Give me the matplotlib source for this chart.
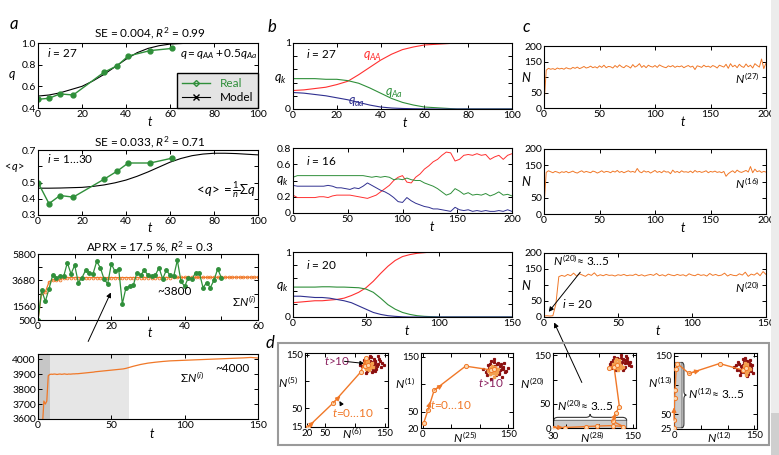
import matplotlib.pyplot as plt
from matplotlib.lines import Line2D
from matplotlib.patches import FancyArrowPatch, FancyBboxPatch, PathPatch, Rectangle
from matplotlib.path import Path

W, H = 779, 455
plt.rcParams['font.family'] = ['Lato', 'DejaVu Sans']
plt.rcParams['mathtext.fontset'] = 'custom'
plt.rcParams['mathtext.rm'] = 'Lato'
plt.rcParams['mathtext.it'] = 'Lato:italic'
plt.rcParams['mathtext.bf'] = 'Lato:bold'
plt.rcParams['font.size'] = 7.5

GREEN = '#2f8f3a'
ORANGE = '#f07828'
RED = '#ff3030'
BLUE = '#303090'
DARKRED = '#8b1010'

# ---- panel a: real vs model ----
real_t = [0, 5, 10, 16, 30, 36, 41, 51, 61]
q27_real = [0.48, 0.49, 0.53, 0.52, 0.73, 0.79, 0.88, 0.93, 0.95]
qmean_real = [0.50, 0.37, 0.42, 0.41, 0.52, 0.57, 0.62, 0.62, 0.65]
model_t = [0, 5, 10, 15, 20, 25, 30, 35, 40, 45, 50, 55, 60, 65, 70, 75, 80, 85, 90, 95, 100]
q27_model = [0.51, 0.52, 0.54, 0.57, 0.60, 0.65, 0.71, 0.78, 0.85, 0.91, 0.95, 0.975, 0.99, 0.995,
             1.0, 1.0, 1.0, 1.0, 1.0, 1.0, 1.0]
qmean_model = [0.465, 0.465, 0.466, 0.468, 0.470, 0.476, 0.485, 0.498, 0.515, 0.538, 0.565, 0.595,
               0.625, 0.648, 0.665, 0.675, 0.680, 0.680, 0.678, 0.674, 0.670]

sum_real_t = list(range(0, 51))
sum_real = [500, 2900, 2000, 3000, 4100, 3900, 4000, 4000, 5100, 4200, 4900, 3500, 3900, 4500, 4300,
            4200, 5200, 4700, 3800, 3400, 5000, 4400, 4600, 1800, 3100, 3200, 3300, 4300, 4100, 4500,
            4100, 4000, 4100, 4700, 3800, 4500, 4100, 4000, 5300, 3600, 3200, 3900, 3800, 4300, 4300,
            3100, 3500, 3100, 3700, 4600, 3900]
sum_model_t = list(range(0, 61)) + list(range(65, 151, 5))
sum_model = [500, 2700, 2750, 3550, 3720, 3700, 3720, 3890, 3898, 3900, 3899, 3901, 3900, 3898, 3900,
             3901, 3899, 3900, 3902, 3900, 3899, 3901, 3900, 3901, 3902, 3902, 3903, 3903, 3904, 3905,
             3906, 3907, 3908, 3909, 3910, 3911, 3912, 3913, 3914, 3916, 3917, 3918, 3919, 3920, 3921,
             3922, 3923, 3924, 3925, 3926, 3927, 3928, 3929, 3930, 3931, 3932, 3933, 3934, 3935, 3937,
             3939, 3953, 3965, 3974, 3980, 3985, 3989, 3991, 3993, 3995, 3997, 3999, 4001, 4003, 4005,
             4007, 4009, 4012, 4008]

# ---- panel b: genotype frequencies ----
b1_t = [0, 5, 10, 15, 20, 25, 30, 35, 40, 45, 50, 55, 60, 65, 70, 75, 80, 85, 90, 95, 100]
b1_AA = [0.28, 0.29, 0.31, 0.33, 0.37, 0.42, 0.52, 0.63, 0.74, 0.83, 0.90, 0.94, 0.97, 0.98, 0.99,
         1.0, 1.0, 1.0, 1.0, 1.0, 1.0]
b1_Aa = [0.46, 0.46, 0.46, 0.45, 0.45, 0.43, 0.39, 0.32, 0.24, 0.16, 0.10, 0.06, 0.03, 0.02, 0.01,
         0.0, 0.0, 0.0, 0.0, 0.0, 0.0]
b1_aa = [0.25, 0.24, 0.22, 0.20, 0.17, 0.14, 0.10, 0.06, 0.03, 0.015, 0.008, 0.004, 0.002, 0.0, 0.0,
         0.0, 0.0, 0.0, 0.0, 0.0, 0.0]

b2_t = list(range(0, 201, 4))
b2_AA = [0.22, 0.19, 0.19, 0.19, 0.19, 0.19, 0.20, 0.20, 0.19, 0.21, 0.22, 0.22, 0.22, 0.22, 0.21,
         0.20, 0.19, 0.18, 0.20, 0.22, 0.26, 0.30, 0.34, 0.40, 0.44, 0.46, 0.38, 0.37, 0.44, 0.48,
         0.54, 0.58, 0.63, 0.66, 0.71, 0.75, 0.74, 0.64, 0.66, 0.71, 0.72, 0.71, 0.73, 0.71, 0.72,
         0.66, 0.69, 0.71, 0.66, 0.71, 0.73]
b2_Aa = [0.44, 0.46, 0.46, 0.46, 0.46, 0.46, 0.46, 0.46, 0.46, 0.46, 0.46, 0.46, 0.46, 0.46, 0.46,
         0.46, 0.46, 0.45, 0.44, 0.45, 0.44, 0.45, 0.44, 0.41, 0.42, 0.41, 0.43, 0.41, 0.40, 0.40,
         0.37, 0.35, 0.33, 0.30, 0.26, 0.22, 0.24, 0.30, 0.27, 0.23, 0.25, 0.22, 0.23, 0.22, 0.24,
         0.21, 0.23, 0.26, 0.22, 0.23, 0.21]
b2_aa = [0.34, 0.33, 0.33, 0.33, 0.33, 0.33, 0.33, 0.33, 0.34, 0.33, 0.31, 0.31, 0.30, 0.29, 0.31,
         0.30, 0.33, 0.37, 0.34, 0.31, 0.28, 0.26, 0.23, 0.19, 0.14, 0.13, 0.19, 0.15, 0.12, 0.10,
         0.08, 0.07, 0.05, 0.05, 0.04, 0.03, 0.02, 0.07, 0.04, 0.03, 0.04, 0.02, 0.03, 0.02, 0.03,
         0.02, 0.02, 0.03, 0.02, 0.04, 0.02]

b3_t = list(range(0, 151, 5))
b3_AA = [0.22, 0.23, 0.24, 0.25, 0.25, 0.26, 0.27, 0.29, 0.33, 0.38, 0.45, 0.55, 0.67, 0.78, 0.87,
         0.93, 0.96, 0.98, 0.99, 1.0, 1.0, 1.0, 1.0, 1.0, 1.0, 1.0, 1.0, 1.0, 1.0, 1.0, 1.0]
b3_Aa = [0.46, 0.46, 0.46, 0.46, 0.465, 0.465, 0.46, 0.46, 0.455, 0.45, 0.43, 0.38, 0.29, 0.19, 0.12,
         0.07, 0.04, 0.02, 0.01, 0.005, 0.0, 0.0, 0.0, 0.0, 0.0, 0.0, 0.0, 0.0, 0.0, 0.0, 0.0]
b3_aa = [0.32, 0.32, 0.31, 0.30, 0.30, 0.29, 0.27, 0.25, 0.22, 0.17, 0.12, 0.07, 0.04, 0.02, 0.01,
         0.003, 0.0, 0.0, 0.0, 0.0, 0.0, 0.0, 0.0, 0.0, 0.0, 0.0, 0.0, 0.0, 0.0, 0.0, 0.0]

# ---- panel c: population sizes ----
c12_t = list(range(0, 201, 2))
c1_N = [10, 122, 128, 125, 127, 124, 129, 126, 128, 125,
        130, 127, 126, 131, 128, 132, 127, 130, 134, 129,
        131, 135, 130, 133, 129, 136, 131, 138, 130, 134,
        133, 129, 137, 131, 139, 133, 130, 137, 134, 129,
        140, 132, 136, 143, 131, 137, 130, 138, 134, 132,
        137, 131, 139, 135, 132, 130, 136, 133, 137, 131,
        135, 133, 136, 130, 134, 137, 132, 135, 124, 136,
        134, 131, 138, 133, 135, 131, 137, 134, 129, 138,
        135, 132, 141, 128, 143, 133, 138, 130, 141, 134,
        131, 142, 133, 138, 129, 143, 137, 132, 158, 127, 145]
c2_N = [25, 128, 133, 130, 127, 131, 129, 126, 130, 128,
        131, 127, 129, 132, 128, 126, 130, 133, 128, 131,
        129, 127, 132, 130, 126, 129, 133, 128, 131, 130,
        127, 132, 129, 134, 128, 131, 127, 130, 133, 129,
        131, 128, 140, 130, 127, 133, 129, 131, 126, 130,
        134, 128, 131, 127, 133, 129, 130, 124, 135, 128,
        131, 127, 133, 129, 130, 128, 132, 127, 134, 129,
        131, 128, 130, 133, 127, 131, 129, 132, 128, 130,
        127, 131, 116, 124, 129, 133, 127, 135, 130, 128,
        131, 134, 129, 146, 127, 138, 130, 133, 128, 131, 129]
c3_t = list(range(0, 151, 2))
c3_N = [3, 4, 3, 4, 40, 126, 130, 127, 133, 129,
        137, 128, 135, 131, 127, 134, 130, 138, 128, 132,
        129, 133, 130, 131, 128, 132, 130, 133, 129, 131,
        130, 134, 129, 132, 128, 131, 133, 130, 136, 129,
        132, 128, 134, 131, 129, 133, 130, 132, 128, 135,
        131, 129, 134, 130, 132, 128, 136, 130, 133, 129,
        131, 137, 128, 133, 130, 129, 135, 131, 140, 127,
        134, 131, 138, 129, 142, 133]

# ---- panel d: phase portraits ----
d1_traj_x = [22, 64, 110, 118, 116, 121]
d1_traj_y = [15, 60, 118, 144, 128, 130]
d1_real_x = [112, 118, 121, 125, 128, 131, 134, 137, 140, 143, 115, 120, 124, 127, 130, 133, 136, 139,
             145, 109, 117, 122, 126, 129, 132, 135, 138, 148, 119, 123, 127, 131, 134, 125, 129, 141]
d1_real_y = [128, 133, 124, 139, 131, 127, 136, 130, 142, 126, 140, 119, 134, 145, 122, 138, 128, 133,
             135, 131, 126, 143, 129, 136, 141, 124, 147, 131, 115, 137, 125, 133, 120, 148, 118, 138]
d1_model_x = [115, 118, 121, 124, 127, 119, 123, 126, 116, 122, 125, 128, 120, 117, 130]
d1_model_y = [130, 124, 133, 127, 129, 136, 121, 132, 126, 139, 125, 134, 128, 132, 127]

d2_traj_x = [2, 9, 20, 75, 120, 124]
d2_traj_y = [30, 52, 89, 133, 126, 128]
d2_real_x = [105, 110, 114, 118, 121, 124, 127, 130, 133, 136, 139, 142, 146, 150, 112, 116, 120, 123,
             126, 129, 132, 135, 138, 141, 144, 119, 125, 131, 137, 128, 122, 134, 117, 140, 127, 113]
d2_real_y = [128, 122, 135, 118, 131, 140, 125, 136, 121, 133, 127, 138, 124, 130, 116, 129, 143, 120,
             134, 117, 139, 126, 113, 132, 122, 110, 146, 128, 137, 121, 125, 119, 137, 127, 131, 124]
d2_model_x = [114, 118, 121, 124, 127, 130, 117, 122, 126, 129, 120, 124, 132, 119, 125]
d2_model_y = [124, 129, 121, 127, 132, 123, 118, 134, 126, 119, 130, 114, 127, 122, 120]

d3_traj_x = [31, 48, 80, 96, 120, 136, 120, 125, 130, 122, 114, 126]
d3_traj_y = [1, 1, 3, 4, 5, 3, 14, 32, 44, 126, 124, 130]
d3_real_x = [116, 120, 124, 127, 130, 133, 136, 139, 142, 145, 148, 118, 122, 126, 129, 132, 135, 138,
             141, 144, 121, 125, 128, 131, 134, 137, 140, 143, 127, 133, 123, 136, 130, 139, 117, 146]
d3_real_y = [133, 140, 128, 145, 136, 131, 142, 127, 138, 133, 129, 124, 147, 121, 139, 150, 125, 135,
             144, 131, 136, 119, 142, 128, 137, 123, 148, 134, 131, 145, 131, 120, 126, 140, 137, 136]
d3_model_x = [122, 125, 128, 131, 124, 127, 130, 133, 126, 129, 121, 135, 128, 132, 125]
d3_model_y = [128, 134, 126, 131, 138, 123, 136, 129, 131, 140, 132, 127, 120, 125, 142]

d4_traj_x = [0, 0, 1, 2, 4, 6, 28, 85, 128, 134]
d4_traj_y = [26, 40, 78, 92, 128, 137, 120, 137, 126, 130]
d4_real_x = [112, 118, 122, 126, 129, 132, 135, 138, 141, 144, 147, 120, 124, 128, 131, 134, 137, 140,
             143, 127, 133, 139, 125, 136, 130, 145, 116, 142, 123, 138, 131, 134, 129, 141, 137, 126]
d4_real_y = [131, 126, 137, 122, 134, 128, 141, 125, 133, 129, 121, 140, 118, 145, 127, 136, 131, 138,
             124, 130, 147, 119, 132, 115, 139, 134, 135, 143, 126, 128, 122, 133, 130, 137, 141, 125]
d4_model_x = [130, 133, 136, 139, 132, 135, 138, 131, 134, 137, 129, 140, 133, 136, 142]
d4_model_y = [128, 124, 131, 126, 135, 120, 129, 132, 117, 136, 124, 130, 138, 122, 127]

fig = plt.figure(figsize=(W / 100, H / 100), dpi=100)


def px_axes(x0, y0, x1, y1, size=7.5):
    ax = fig.add_axes([x0 / W, 1 - y1 / H, (x1 - x0) / W, (y1 - y0) / H])
    ax.tick_params(direction='in', top=True, right=True, length=3, width=0.7, pad=1.5, labelsize=size)
    for sp in ax.spines.values():
        sp.set_linewidth(0.8)
    return ax


def ftext(x, y, s, **kw):
    kw.setdefault('ha', 'center')
    kw.setdefault('va', 'center')
    fig.text(x / W, 1 - y / H, s, **kw)


def farrow(x0, y0, x1, y1):
    fig.add_artist(FancyArrowPatch((x0 / W, 1 - y0 / H), (x1 / W, 1 - y1 / H), transform=fig.transFigure,
                                   arrowstyle='-|>', mutation_scale=7, lw=0.7, color='k'))


def brace(ax, a0, a1, c, h, vertical=False):
    m = (a0 + a1) / 2
    q = (a1 - a0) * 0.06
    pts = [(a0, c), (a0, c + h / 2), (a0 + q, c + h / 2), (m - q, c + h / 2), (m, c + h / 2), (m, c + h),
           (m, c + h / 2), (m + q, c + h / 2), (a1 - q, c + h / 2), (a1, c + h / 2), (a1, c)]
    if vertical:
        pts = [(y, x) for x, y in pts]
    codes = [Path.MOVETO, Path.CURVE3, Path.CURVE3, Path.LINETO, Path.CURVE3, Path.CURVE3,
             Path.CURVE3, Path.CURVE3, Path.LINETO, Path.CURVE3, Path.CURVE3]
    ax.add_patch(PathPatch(Path(pts, codes), fc='none', ec='#333333', lw=0.8, zorder=1))


# right edge strip of the page
fig.add_artist(Rectangle((771 / W, 0), 8 / W, 1, transform=fig.transFigure, color='#ececec', lw=0))
fig.add_artist(Rectangle((771 / W, 0), 8 / W, 42 / H, transform=fig.transFigure, color='#cfcfcf', lw=0))

# ---------------- a1 ----------------
ax = px_axes(38, 43, 258, 108)
ax.plot(model_t, q27_model, color='k', lw=0.8)
ax.plot(real_t, q27_real, color=GREEN, lw=1, marker='o', ms=3.5)
ax.set_xlim(0, 100)
ax.set_ylim(0.4, 1.0)
ax.set_xticks(range(0, 101, 20))
ax.set_yticks([0.4, 0.6, 0.8, 1.0], ['0.4', '0.6', '0.8', '1.0'])
ax.text(0.04, 0.78, r'$i$ = 27', transform=ax.transAxes, fontsize=8.5)
ax.text(0.995, 0.78, r'$q = q_{AA} + 0.5q_{Aa}$', transform=ax.transAxes, fontsize=8.5, ha='right')
handles = [Line2D([], [], color=GREEN, lw=1, marker='D', mfc='none', ms=3),
           Line2D([], [], color='k', lw=0.8, marker='x', ms=4)]
leg = ax.legend(handles, ['Real', 'Model'], loc='lower right', borderaxespad=0, fancybox=False,
                facecolor='#e4e4e4', edgecolor='k', framealpha=1, fontsize=8.5, handlelength=2.4,
                labelspacing=0.3, borderpad=0.4)
leg.get_texts()[0].set_color(GREEN)
ftext(150, 33, r'SE = 0.004, $R^2$ = 0.99', fontsize=8.5)
ftext(12, 76, r'$q$', fontsize=9)
ftext(150, 121, r'$t$', fontsize=9)
ftext(14, 24, r'$a$', fontsize=12)

# ---------------- a2 ----------------
ax = px_axes(38, 150, 258, 215)
ax.plot(model_t, qmean_model, color='k', lw=0.8)
ax.plot(real_t, qmean_real, color=GREEN, lw=1, marker='o', ms=3.5)
ax.set_xlim(0, 100)
ax.set_ylim(0.3, 0.7)
ax.set_xticks(range(0, 101, 20))
ax.set_yticks([0.3, 0.4, 0.5, 0.6, 0.7], ['0.3', '0.4', '0.5', '', '0.7'])
ax.text(0.04, 0.8, r'$i$ = 1…30', transform=ax.transAxes, fontsize=8.5)
ax.text(0.99, 0.3, r'$<\!q\!> = \frac{1}{n}\Sigma q$', transform=ax.transAxes, fontsize=9.5, ha='right')
ftext(150, 142, r'SE = 0.033, $R^2$ = 0.71', fontsize=8.5)
ftext(14, 167, r'$<\!q\!>$', fontsize=8)
ftext(150, 227, r'$t$', fontsize=9)

# ---------------- a3 ----------------
ax = px_axes(38, 254, 258, 320)
ax.plot(sum_model_t[:61], sum_model[:61], color=ORANGE, lw=0.9, marker='o', ms=2, mfc='none', mew=0.6)
ax.plot(sum_real_t, sum_real, color=GREEN, lw=0.9, marker='o', ms=2.5)
ax.set_xlim(0, 60)
ax.set_ylim(500, 5800)
ax.set_xticks(range(0, 61, 10), ['0', '', '20', '', '40', '', '60'])
ax.set_yticks([500, 1560, 2620, 3680, 4740, 5800], ['500', '1560', '', '3680', '', '5800'])
ax.text(0.62, 0.38, '~3800', transform=ax.transAxes, fontsize=8.5, ha='center')
ax.text(0.99, 0.2, r'Σ$N^{(i)}$', transform=ax.transAxes, fontsize=8.5, ha='right')
ftext(150, 247, r'APRX = 17.5 %, $R^2$ = 0.3', fontsize=8.5)
ftext(150, 332, r'$t$', fontsize=9)
farrow(87, 344, 112, 290)

# ---------------- a4 ----------------
ax = px_axes(38, 354, 258, 419)
ax.axvspan(0, 8, color='#c6c6c6', lw=0)
ax.axvspan(8, 62, color='#e6e6e6', lw=0)
ax.plot(sum_model_t, sum_model, color=ORANGE, lw=0.9)
ax.set_xlim(0, 150)
ax.set_ylim(3600, 4035)
ax.set_xticks([0, 50, 100, 150])
ax.set_yticks(range(3600, 4001, 100))
ax.text(0.7, 0.55, r'Σ$N^{(i)}$', transform=ax.transAxes, fontsize=8.5, ha='center')
ax.text(0.96, 0.72, '~4000', transform=ax.transAxes, fontsize=8.5, ha='right')
ftext(152, 433, r'$t$', fontsize=9)

# ---------------- b ----------------
ax = px_axes(293, 43, 512, 109)
ax.plot(b1_t, b1_AA, color=RED, lw=0.8)
ax.plot(b1_t, b1_Aa, color=GREEN, lw=0.8)
ax.plot(b1_t, b1_aa, color=BLUE, lw=0.8)
ax.set_xlim(0, 100)
ax.set_ylim(0, 1)
ax.set_xticks(range(0, 101, 20))
ax.set_yticks([0, 0.2, 0.4, 0.6, 0.8, 1], ['0', '', '', '', '', '1'])
ax.text(0.06, 0.78, r'$i$ = 27', transform=ax.transAxes, fontsize=8.5)
ax.text(0.32, 0.76, r'$q_{AA}$', transform=ax.transAxes, fontsize=9, color=RED)
ax.text(0.42, 0.2, r'$q_{Aa}$', transform=ax.transAxes, fontsize=9, color=GREEN)
ax.text(0.25, 0.06, r'$q_{aa}$', transform=ax.transAxes, fontsize=9, color=BLUE)
ftext(280, 79, r'$q_k$', fontsize=9)
ftext(405, 122, r'$t$', fontsize=9)
ftext(272, 27, r'$b$', fontsize=12)

ax = px_axes(293, 148, 512, 213)
ax.plot(b2_t, b2_AA, color=RED, lw=0.7)
ax.plot(b2_t, b2_Aa, color=GREEN, lw=0.7)
ax.plot(b2_t, b2_aa, color=BLUE, lw=0.7)
ax.set_xlim(0, 200)
ax.set_ylim(0, 0.8)
ax.set_xticks(range(0, 201, 50))
ax.set_yticks([0, 0.2, 0.4, 0.6, 0.8], ['0', '0.2', '', '0.6', '0.8'])
ax.text(0.06, 0.74, r'$i$ = 16', transform=ax.transAxes, fontsize=8.5)
ftext(282, 181, r'$q_k$', fontsize=9)
ftext(432, 226, r'$t$', fontsize=9)

ax = px_axes(293, 252, 512, 317)
ax.plot(b3_t, b3_AA, color=RED, lw=0.8)
ax.plot(b3_t, b3_Aa, color=GREEN, lw=0.8)
ax.plot(b3_t, b3_aa, color=BLUE, lw=0.8)
ax.set_xlim(0, 150)
ax.set_ylim(0, 1)
ax.set_xticks(range(0, 151, 50))
ax.set_yticks([0, 0.2, 0.4, 0.6, 0.8, 1], ['0', '', '', '', '', '1'])
ax.text(0.06, 0.74, r'$i$ = 20', transform=ax.transAxes, fontsize=8.5)
ftext(282, 287, r'$q_k$', fontsize=9)
ftext(407, 330, r'$t$', fontsize=9)

# ---------------- c ----------------
for (y0, y1, tt, nn, lab, tx) in [(46, 108, c12_t, c1_N, '27', 683), (149, 214, c12_t, c2_N, '16', 683),
                                  (253, 317, c3_t, c3_N, '20', 658)]:
    ax = px_axes(544, y0, 766, y1)
    ax.plot(tt, nn, color=ORANGE, lw=0.7)
    ax.set_xlim(0, tt[-1])
    ax.set_ylim(0, 200)
    ax.set_xticks(range(0, tt[-1] + 1, 50))
    ax.set_yticks([0, 50, 100, 150, 200], ['0', '50', '', '150', '200'])
    ax.text(0.97, 0.38, r'$N^{(' + lab + ')}$', transform=ax.transAxes, fontsize=8.5, ha='right')
    ftext(526, (y0 + y1) / 2, r'$N$', fontsize=9)
    ftext(tx, y1 + 13, r'$t$', fontsize=9)
ax.text(0.04, 0.8, r'$N^{(20)}$≈ 3…5', transform=ax.transAxes, fontsize=8.5)
ax.text(0.08, 0.14, r'$i$ = 20', transform=ax.transAxes, fontsize=8.5)
ftext(527, 27, r'$c$', fontsize=12)
farrow(582, 270, 547, 314)
farrow(583, 385, 553, 320)

# ---------------- d ----------------
fig.add_artist(Rectangle((278 / W, 1 - 445 / H), 491 / W, 102 / H, transform=fig.transFigure,
                         fc='none', ec='#9a9a9a', lw=1.5))
ftext(270, 342, r'$d$', fontsize=12)


def phase(ax, tx, ty, rx, ry, mx, my, arrows):
    ax.plot(rx, ry, ls='none', marker='s', ms=1.3, color=DARKRED, zorder=2)
    ax.plot(mx, my, ls='none', marker='s', ms=1.5, color='#f4a050', zorder=3)
    ax.plot(tx, ty, color=ORANGE, lw=1, marker='o', ms=3, mfc='#fcd8b0', mec=ORANGE, mew=0.7, zorder=4)
    for p0, p1 in arrows:
        ax.annotate('', xy=p1, xytext=p0, arrowprops=dict(arrowstyle='-|>', color=ORANGE, lw=0.8,
                                                          mutation_scale=7, shrinkA=0, shrinkB=0), zorder=5)


ax = px_axes(305, 353, 388, 427, size=7)
phase(ax, d1_traj_x, d1_traj_y, d1_real_x, d1_real_y, d1_model_x, d1_model_y,
      [((22, 15), (32, 25)), ((64, 60), (76, 73))])
ax.set_xlim(17, 155)
ax.set_ylim(15, 153)
ax.set_xticks([20, 50, 100, 150], ['20', '50', '', '150'])
ax.set_yticks([15, 50, 100, 150], ['15', '50', '', '150'])
ax.text(48, 138, r'$t$>10', fontsize=8.5, color='#8b2260', va='center')
ax.annotate('', xy=(120, 133), xytext=(78, 138), arrowprops=dict(arrowstyle='-|>', color='k', lw=0.7,
                                                                 mutation_scale=6))
ax.text(62, 41, r'$t$=0…10', fontsize=8.5, color=ORANGE, va='center')
ax.annotate('', xy=(72, 68), xytext=(80, 52), arrowprops=dict(arrowstyle='-|>', color='k', lw=0.7,
                                                              mutation_scale=6))
ftext(288, 382, r'$N^{(5)}$', fontsize=8.5)
ftext(352, 433, r'$N^{(6)}$', fontsize=8.5)

ax = px_axes(421, 353, 513, 428, size=7)
phase(ax, d2_traj_x, d2_traj_y, d2_real_x, d2_real_y, d2_model_x, d2_model_y,
      [((9, 52), (13, 68)), ((20, 89), (35, 99))])
ax.set_xlim(-3, 158)
ax.set_ylim(20, 157)
ax.set_xticks([0, 50, 100, 150], ['0', '', '', '150'])
ax.set_yticks([20, 50, 100, 150], ['20', '50', '', '150'])
ax.text(97, 103, r'$t$>10', fontsize=8.5, color='#8b2260', va='center')
ax.text(12, 62, r'$t$=0…10', fontsize=8.5, color=ORANGE, va='center')
ftext(405, 383, r'$N^{(1)}$', fontsize=8.5)
ftext(465, 437, r'$N^{(25)}$', fontsize=8.5)

ax = px_axes(553, 353, 636, 428, size=7)
ax.tick_params(axis='x', pad=3)
ax.add_patch(FancyBboxPatch((33, -1), 106, 15, boxstyle='round,pad=2', fc='#cccccc', ec='#555555',
                            lw=0.6, zorder=0.5))
brace(ax, 31, 141, 15, 14)
phase(ax, d3_traj_x, d3_traj_y, d3_real_x, d3_real_y, d3_model_x, d3_model_y,
      [((31, 1), (45, 1)), ((120, 14), (124, 30))])
ax.set_xlim(30, 155)
ax.set_ylim(0, 155)
ax.set_xticks([30, 50, 100, 150], ['30', '', '', '150'])
ax.set_yticks([0, 50, 100, 150], ['0', '50', '', '150'])
ax.text(36, 46, r'$N^{(20)}$≈ 3…5', fontsize=8.5, va='center')
ftext(532, 383, r'$N^{(20)}$', fontsize=8.5)
ftext(592, 437, r'$N^{(28)}$', fontsize=8.5)

ax = px_axes(674, 353, 757, 429, size=7)
ax.add_patch(FancyBboxPatch((-2, 29), 15, 108, boxstyle='round,pad=2', fc='#cccccc', ec='#555555',
                            lw=0.6, zorder=0.5))
brace(ax, 27, 139, 14, 9, vertical=True)
phase(ax, d4_traj_x, d4_traj_y, d4_real_x, d4_real_y, d4_model_x, d4_model_y,
      [((0, 40), (0, 62)), ((28, 120), (48, 125))])
ax.set_xlim(0, 155)
ax.set_ylim(25, 155)
ax.set_xticks([0, 50, 100, 150], ['0', '', '', '150'])
ax.set_yticks([25, 50, 100, 150], ['25', '50', '', '150'])
ax.text(27, 86, r'$N^{(12)}$≈ 3…5', fontsize=8.5, va='center')
ftext(660, 382, r'$N^{(13)}$', fontsize=8.5)
ftext(719, 437, r'$N^{(12)}$', fontsize=8.5)

fig.savefig('out.png', dpi=100)
